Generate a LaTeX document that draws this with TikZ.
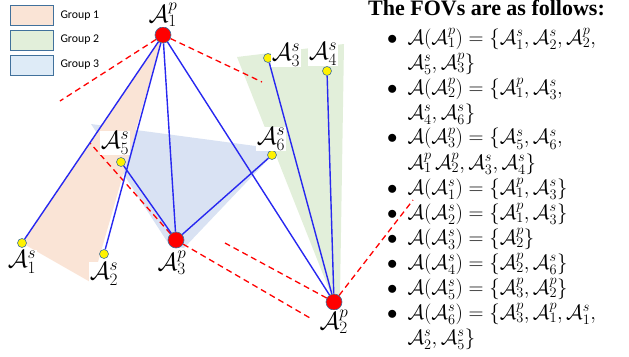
\documentclass[tikz,border=0pt]{standalone}
\usepackage[no-math]{fontspec}
\setmainfont{Liberation Serif}
\newfontfamily\legendfont{Carlito}
\usetikzlibrary{backgrounds}

\definecolor{bordc}{RGB}{65,113,156}
\definecolor{linkc}{RGB}{40,40,240}
\definecolor{grpone}{RGB}{250,228,214}
\definecolor{grptwo}{RGB}{226,239,218}
\definecolor{grpthree}{RGB}{217,226,243}
\definecolor{grpthreebox}{RGB}{222,235,247}

\newcommand{\Ap}[1]{\mathcal{A}^p_{#1}}
\newcommand{\As}[1]{\mathcal{A}^s_{#1}}

\tikzset{
  pri/.style={circle, fill=red, draw=bordc, line width=0.6pt, minimum size=16pt, inner sep=0pt},
  sec/.style={circle, fill=yellow, draw=bordc, line width=0.6pt, minimum size=9pt, inner sep=0pt},
  link/.style={draw=linkc, line width=1.4pt},
  fov/.style={draw=red, line width=1.3pt, dash pattern=on 6pt off 4pt},
  lab/.style={fill=white, inner sep=0.5pt, font=\fontsize{23}{23}\selectfont},
  legbox/.style={draw=bordc, line width=0.8pt},
}

\begin{document}
\begin{tikzpicture}[x=1pt,y=-1pt]
\useasboundingbox (0,0) rectangle (629,356);

% legend
\draw[legbox, fill=grpone] (10,5) rectangle (53,25);
\draw[legbox, fill=grptwo] (10,30) rectangle (53,50);
\draw[legbox, fill=grpthreebox] (10,55) rectangle (53,75);
\node[anchor=west, font=\legendfont\fontsize{11.8}{12}\selectfont] (g1) at (57,16) {Group 1};
\node[anchor=west, font=\legendfont\fontsize{11.8}{12}\selectfont] (g2) at (57,40) {Group 2};
\node[anchor=west, font=\legendfont\fontsize{11.8}{12}\selectfont] (g3) at (57,65) {Group 3};

% primary and secondary agents
\node[pri] (P1) at (163,35) {};
\node[pri] (P2) at (334,302) {};
\node[pri] (P3) at (176,240) {};
\node[sec] (S1) at (22,243) {};
\node[sec] (S2) at (104,254) {};
\node[sec] (S3) at (268,58) {};
\node[sec] (S4) at (327,71) {};
\node[sec] (S5) at (121,162) {};
\node[sec] (S6) at (272,155) {};

% free ends of the FOV edges
\coordinate (f1a) at (60,101);
\coordinate (f1b) at (262,82);
\coordinate (f3a) at (90,143);
\coordinate (f3b) at (310,318);
\coordinate (f2a) at (225,243);
\coordinate (f2b) at (413,200);

\begin{scope}[on background layer]
  \fill[grpthree] (91,124) -- (278,149) -- (184,248) -- (170,246) -- cycle;
  \fill[grpone] (P1.center) -- (S1.center) -- (92,283) -- cycle;
  \fill[grptwo] (237,57) -- (344,44) -- (340,295) -- (P2.center) -- cycle;

  \draw[fov] (P1) -- (f1a);
  \draw[fov] (P1) -- (f1b);
  \draw[fov] (P3) -- (f3a);
  \draw[fov] (P3) -- (f3b);
  \draw[fov] (P2) -- (f2a);
  \draw[fov] (P2) -- (f2b);

  \draw[link] (P1) -- (S1);
  \draw[link] (P1) -- (S2);
  \draw[link] (P1) -- (P3);
  \draw[link] (P1) -- (P2);
  \draw[link] (S5) -- (P3);
  \draw[link] (S6) -- (P3);
  \draw[link] (S3) -- (P2);
  \draw[link] (S4) -- (P2);
\end{scope}

% labels
\node[lab] (lP1) at (163,15) {$\Ap{1}$};
\node[lab] (lP2) at (334,322) {$\Ap{2}$};
\node[lab] (lP3) at (172,263) {$\Ap{3}$};
\node[lab] (lS1) at (22,262) {$\As{1}$};
\node[lab] (lS2) at (104,274) {$\As{2}$};
\node[lab] (lS3) at (286,55) {$\As{3}$};
\node[lab] (lS4) at (323,54) {$\As{4}$};
\node[lab] (lS5) at (115,143) {$\As{5}$};
\node[lab] (lS6) at (271,139) {$\As{6}$};

% list of the FOVs
\node[anchor=base west, inner sep=0pt, font=\bfseries\fontsize{22}{24}\selectfont] (title) at (368,15) {The FOVs are as follows:};
\node[anchor=base west, inner sep=0pt, font=\fontsize{21}{25}\selectfont] (fovs) at (387,44) {%
\begin{tabular}[t]{@{}l@{\hspace{10pt}}l@{}}
$\bullet$ & $\mathcal{A}(\Ap{1})=\{\As{1},\As{2},\Ap{2},$\\
 & $\As{5},\Ap{3}\}$\\
$\bullet$ & $\mathcal{A}(\Ap{2})=\{\Ap{1},\As{3},$\\
 & $\As{4},\As{6}\}$\\
$\bullet$ & $\mathcal{A}(\Ap{3})=\{\As{5},\As{6},$\\
 & $\Ap{1}\,\Ap{2},\As{3},\As{4}\}$\\
$\bullet$ & $\mathcal{A}(\As{1})=\{\Ap{1},\As{3}\}$\\
$\bullet$ & $\mathcal{A}(\As{2})=\{\Ap{1},\As{3}\}$\\
$\bullet$ & $\mathcal{A}(\As{3})=\{\Ap{2}\}$\\
$\bullet$ & $\mathcal{A}(\As{4})=\{\Ap{2},\As{6}\}$\\
$\bullet$ & $\mathcal{A}(\As{5})=\{\Ap{3},\Ap{2}\}$\\
$\bullet$ & $\mathcal{A}(\As{6})=\{\Ap{3},\Ap{1},\As{1},$\\
 & $\As{2},\As{5}\}$
\end{tabular}};
\end{tikzpicture}
\end{document}
